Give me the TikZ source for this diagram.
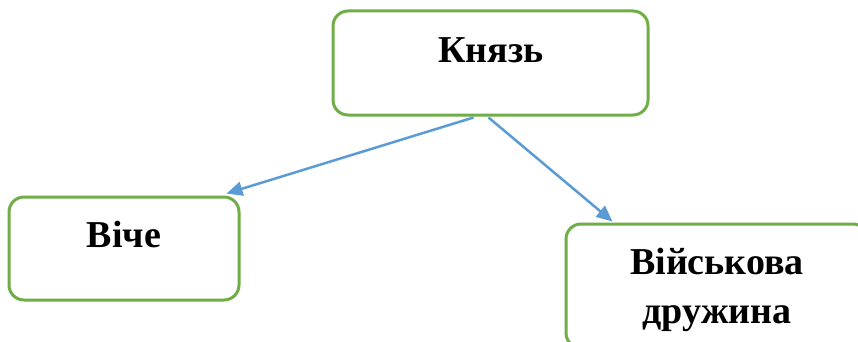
\documentclass[tikz,border=0pt]{standalone}
\usepackage{fontspec}
\setmainfont{Liberation Serif}
\usetikzlibrary{arrows.meta,calc}
\definecolor{boxgreen}{HTML}{70AD47}
\definecolor{arrowblue}{HTML}{5B9BD5}
\tikzset{
  box/.style={draw=boxgreen, line width=3pt, rounded corners=15pt, fill=white, inner sep=0pt},
  lbl/.style={font=\fontsize{38}{46}\selectfont\bfseries, anchor=base, inner sep=0pt},
  conn/.style={draw=arrowblue, line width=2.5pt, -{Triangle[length=16pt,width=14pt]}}
}
\begin{document}
\begin{tikzpicture}[x=1pt,y=1pt]
\useasboundingbox (0,0) rectangle (858,341);
\clip (0,0) rectangle (858,341);
\fill[white] (0,0) rectangle (858,341);
\node[box, minimum width=315pt, minimum height=104pt] (k) at (490.5,278) {};
\node[box, minimum width=230pt, minimum height=103pt] (v) at (124,92.5) {};
\node[box, minimum width=302pt, minimum height=124pt] (d) at (717,55) {};
\node[lbl] (kt) at (491,279) {Князь};
\node[lbl] (vt) at (124,94) {Віче};
\node[lbl] (dt1) at (717,67) {Військова};
\node[lbl] (dt2) at (717,18) {дружина};
\coordinate (k1) at ($(k.south west)+(142,-1)$);
\coordinate (k2) at ($(k.south west)+(157,-1)$);
\coordinate (v1) at ($(v.north west)+(219,2)$);
\coordinate (d1) at ($(d.north west)+(48,1)$);
\draw[conn] (k1) -- (v1);
\draw[conn] (k2) -- (d1);
\end{tikzpicture}
\end{document}
